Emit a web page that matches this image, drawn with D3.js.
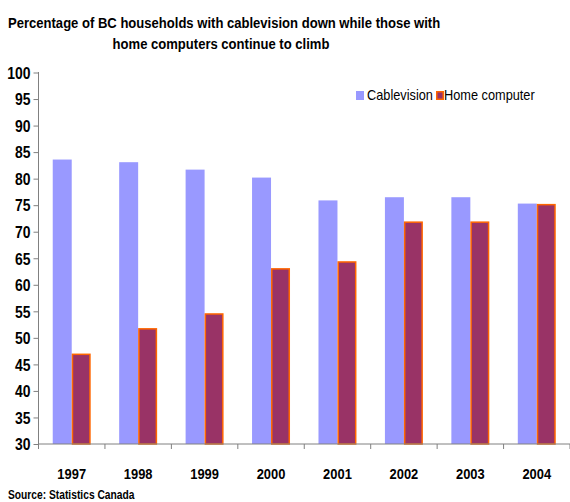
<!DOCTYPE html>
<html>
<head>
<meta charset="utf-8">
<script src="https://cdn.jsdelivr.net/npm/d3@7"></script>
<style>
  html, body { margin: 0; padding: 0; background: #fff; }
  svg { display: block; }
  text { font-family: "Liberation Sans Narrow", "Arial Narrow", "Liberation Sans", Arial, sans-serif; fill: #000; }
</style>
</head>
<body>
<svg id="chart" width="570" height="502"></svg>
<script>
// Survey years and household shares (%)
const years = ["1997", "1998", "1999", "2000", "2001", "2002", "2003", "2004"];
const cablevision = [83.6, 83.1, 81.7, 80.2, 75.9, 76.5, 76.5, 75.3];
const homeComputer = [46.9, 51.7, 54.5, 63.0, 64.3, 71.8, 71.8, 75.1];
const seriesNames = ["Cablevision", "Home computer"];
const yTicks = [30, 35, 40, 45, 50, 55, 60, 65, 70, 75, 80, 85, 90, 95, 100];

const titleLines = [
  "Percentage of BC households with cablevision down while those with",
  "home computers continue to climb"
];
const sourceNote = "Source: Statistics Canada";

const colors = { fill: ["#9999FF", "#993366"], stroke: [null, "#FF6600"] };

const svg = d3.select("#chart");
const plot = { left: 38.5, right: 570, top: 72.5, bottom: 444 };

// Squeeze text horizontally to a narrow face
function condense(sel, k) {
  sel.each(function () {
    const w = this.getComputedTextLength();
    d3.select(this).attr("textLength", w * k).attr("lengthAdjust", "spacingAndGlyphs");
  });
}

const x = d3.scaleBand().domain(years).range([plot.left, plot.right]).padding(0);
const xs = d3.scaleBand().domain(seriesNames).range([0, x.bandwidth()])
  .paddingInner(0).paddingOuter(0.75);
const y = d3.scaleLinear().domain([30, 100]).range([plot.bottom, plot.top]);

// Title
svg.append("g").selectAll("text").data(titleLines).join("text")
  .attr("x", (d, i) => i === 0 ? 8 : 221)
  .attr("text-anchor", (d, i) => i === 0 ? "start" : "middle")
  .attr("y", (d, i) => 27.5 + i * 21)
  .style("font-size", "15px").style("font-weight", "bold")
  .text(d => d)
  .call(condense, 0.87);

// Bars
const rows = years.map((yr, i) => ({ year: yr, values: [cablevision[i], homeComputer[i]] }));
const groups = svg.append("g").selectAll("g").data(rows).join("g")
  .attr("transform", d => `translate(${x(d.year)},0)`);

groups.selectAll("rect").data(d => d.values.map((v, k) => ({ v, k }))).join("rect")
  .attr("x", d => xs(seriesNames[d.k]) + (d.k === 1 ? 0.75 : 0))
  .attr("width", d => xs.bandwidth() - (d.k === 1 ? 1.5 : 0))
  .attr("y", d => y(d.v))
  .attr("height", d => y(30) - y(d.v))
  .attr("fill", d => colors.fill[d.k])
  .attr("stroke", d => colors.stroke[d.k] || "none")
  .attr("stroke-width", 1.5);

// Y axis
const yAxis = d3.axisLeft(y).tickValues(yTicks).tickSize(5).tickPadding(3).tickFormat(d3.format("d"));
const gy = svg.append("g").attr("transform", `translate(${plot.left},0)`).call(yAxis);
gy.select(".domain").attr("stroke", "#808080").attr("d", `M0,${plot.top - 0.5}V${plot.bottom}`);
gy.selectAll(".tick line").attr("stroke", "#808080");
gy.selectAll(".tick text").style("font-size", "16px").style("font-weight", "bold")
  .attr("font-family", null).attr("dy", "0.36em")
  .call(condense, 0.87);

// X axis line with ticks at category boundaries
const gx = svg.append("g").attr("transform", `translate(0,${plot.bottom})`);
gx.append("line").attr("x1", plot.left).attr("x2", plot.right)
  .attr("stroke", "#808080");
const bounds = years.map(d => x(d)).concat([plot.right]);
gx.selectAll("line.tk").data(bounds).join("line").attr("class", "tk")
  .attr("x1", d => d).attr("x2", d => d).attr("y1", 0).attr("y2", 5)
  .attr("stroke", "#808080");
gx.selectAll("text").data(years).join("text")
  .attr("x", d => x(d) + x.bandwidth() / 2)
  .attr("y", 35)
  .attr("text-anchor", "middle")
  .style("font-size", "15px").style("font-weight", "bold")
  .text(d => d)
  .call(condense, 0.86);

// Legend
const legend = svg.append("g").attr("transform", "translate(356,87)");
const legendX = [0, 80];
const legendTextX = [11, 8];
const li = legend.selectAll("g").data(seriesNames).join("g")
  .attr("transform", (d, i) => `translate(${legendX[i]},0)`);
li.append("rect").attr("x", (d, i) => i === 1 ? 0.75 : 0).attr("y", (d, i) => i === 1 ? 4.75 : 4)
  .attr("width", (d, i) => i === 1 ? 6.5 : 8).attr("height", (d, i) => i === 1 ? 7.5 : 9)
  .attr("fill", (d, i) => colors.fill[i])
  .attr("stroke", (d, i) => colors.stroke[i] || "none").attr("stroke-width", 1.5);
li.append("text").attr("x", (d, i) => legendTextX[i]).attr("y", 12.5)
  .style("font-size", "15px").text(d => d)
  .call(condense, 0.85);

// Source note
svg.append("text").attr("x", 8).attr("y", 499)
  .style("font-size", "12.5px").style("font-weight", "bold").text(sourceNote)
  .call(condense, 0.82);
</script>
</body>
</html>
